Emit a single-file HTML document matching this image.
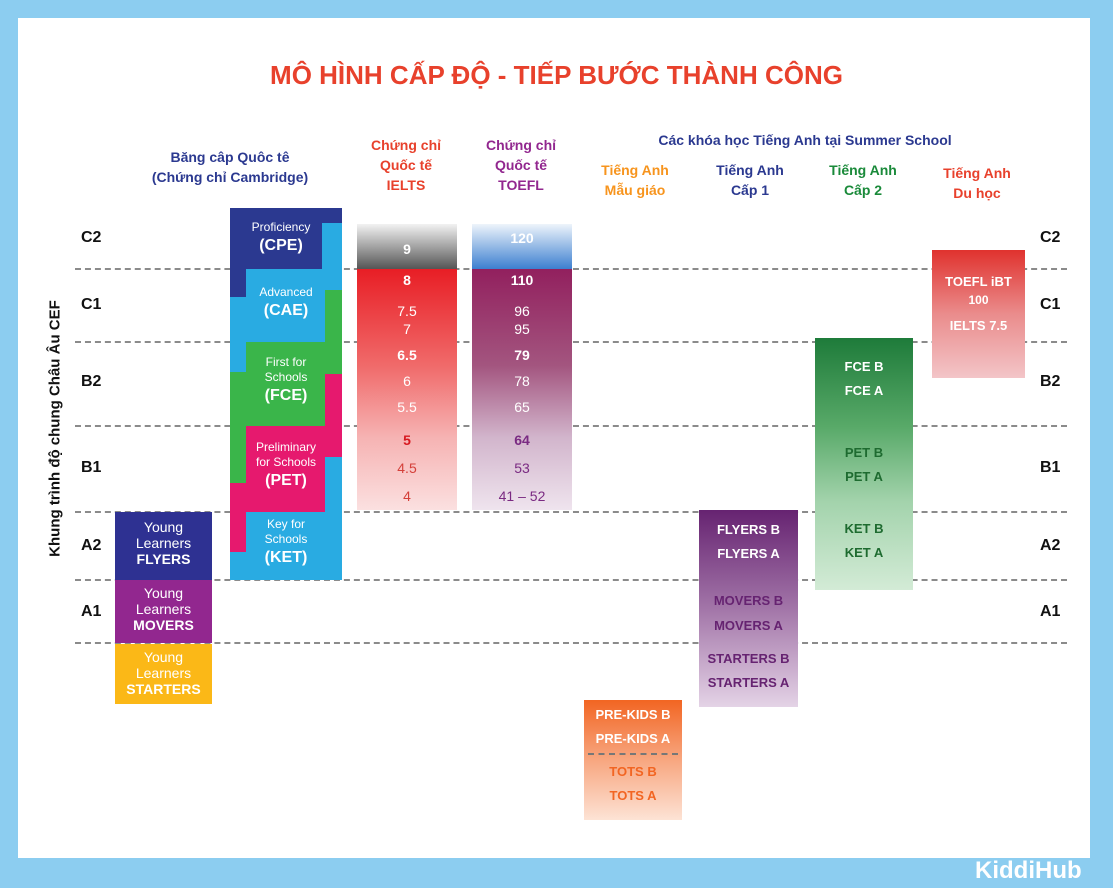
<!DOCTYPE html>
<html><head><meta charset="utf-8"><style>
*{margin:0;padding:0;box-sizing:border-box}
body{width:1113px;height:888px;background:#8ccdf0;position:relative;overflow:hidden;font-family:"Liberation Sans","DejaVu Sans",sans-serif}
.panel{position:absolute;left:18px;top:18px;width:1072px;height:840px;background:#fff}
.a{position:absolute}
.t{position:absolute;text-align:center;font-weight:bold}
.line{position:absolute;left:75px;width:992px;height:0;border-top:2px dashed #777;opacity:.85}
.lv{position:absolute;font-weight:bold;font-size:16px;color:#111}
.c{position:absolute;text-align:center;color:#fff}
</style></head><body>
<div class="panel"></div>
<div class="t" style="left:0;width:1113px;top:60px;font-size:26px;color:#e8412c">MÔ HÌNH CẤP ĐỘ - TIẾP BƯỚC THÀNH CÔNG</div>

<div class="t" style="left:130px;width:200px;top:147px;font-size:14px;line-height:20px;color:#2b3990">Băng câp Quôc tê<br>(Chứng chỉ Cambridge)</div>
<div class="t" style="left:350px;width:112px;top:135px;font-size:14px;line-height:20px;color:#e8412c">Chứng chỉ<br>Quốc tế<br>IELTS</div>
<div class="t" style="left:465px;width:112px;top:135px;font-size:14px;line-height:20px;color:#92278f">Chứng chỉ<br>Quốc tế<br>TOEFL</div>
<div class="t" style="left:600px;width:410px;top:132px;font-size:14px;color:#2b3990">Các khóa học Tiếng Anh tại Summer School</div>
<div class="t" style="left:580px;width:110px;top:160px;font-size:14px;line-height:20px;color:#f7941d">Tiếng Anh<br>Mẫu giáo</div>
<div class="t" style="left:695px;width:110px;top:160px;font-size:14px;line-height:20px;color:#2b3990">Tiếng Anh<br>Cấp 1</div>
<div class="t" style="left:808px;width:110px;top:160px;font-size:14px;line-height:20px;color:#1a8a3a">Tiếng Anh<br>Cấp 2</div>
<div class="t" style="left:922px;width:110px;top:163px;font-size:14px;line-height:20px;color:#e8412c">Tiếng Anh<br>Du học</div>

<div class="t" style="left:-95px;width:300px;top:420px;font-size:15px;color:#111;transform:rotate(-90deg)">Khung trình độ chung Châu Âu CEF</div>

<div class="line" style="top:268px"></div>
<div class="line" style="top:341px"></div>
<div class="line" style="top:425px"></div>
<div class="line" style="top:511px"></div>
<div class="line" style="top:579px"></div>
<div class="line" style="top:642px"></div>

<div class="lv" style="left:81px;top:229px">C2</div><div class="lv" style="left:1040px;top:229px">C2</div>
<div class="lv" style="left:81px;top:296px">C1</div><div class="lv" style="left:1040px;top:296px">C1</div>
<div class="lv" style="left:81px;top:373px">B2</div><div class="lv" style="left:1040px;top:373px">B2</div>
<div class="lv" style="left:81px;top:459px">B1</div><div class="lv" style="left:1040px;top:459px">B1</div>
<div class="lv" style="left:81px;top:537px">A2</div><div class="lv" style="left:1040px;top:537px">A2</div>
<div class="lv" style="left:81px;top:603px">A1</div><div class="lv" style="left:1040px;top:603px">A1</div>

<!-- Cambridge -->
<div class="a" style="left:230px;top:208px;width:112px;height:61px;background:#2b3990"></div>
<div class="a" style="left:322px;top:223px;width:20px;height:46px;background:#29abe2"></div>
<div class="a" style="left:230px;top:269px;width:112px;height:73px;background:#29abe2"></div>
<div class="a" style="left:230px;top:269px;width:16px;height:28px;background:#2b3990"></div>
<div class="a" style="left:325px;top:290px;width:17px;height:52px;background:#3ab54a"></div>
<div class="a" style="left:230px;top:342px;width:112px;height:84px;background:#3ab54a"></div>
<div class="a" style="left:230px;top:342px;width:16px;height:30px;background:#29abe2"></div>
<div class="a" style="left:325px;top:374px;width:17px;height:52px;background:#e6196e"></div>
<div class="a" style="left:230px;top:426px;width:112px;height:86px;background:#e6196e"></div>
<div class="a" style="left:230px;top:426px;width:16px;height:57px;background:#3ab54a"></div>
<div class="a" style="left:325px;top:457px;width:17px;height:55px;background:#29abe2"></div>
<div class="a" style="left:230px;top:512px;width:112px;height:68px;background:#29abe2"></div>
<div class="a" style="left:230px;top:512px;width:16px;height:40px;background:#e6196e"></div>
<div class="c" style="left:230px;width:102px;top:220px;font-size:12px;line-height:15px">Proficiency<br><b style="font-size:16px;line-height:22px">(CPE)</b></div>
<div class="c" style="left:235px;width:102px;top:285px;font-size:12px;line-height:15px">Advanced<br><b style="font-size:16px;line-height:22px">(CAE)</b></div>
<div class="c" style="left:235px;width:102px;top:355px;font-size:12px;line-height:15px">First for<br>Schools<br><b style="font-size:16px;line-height:22px">(FCE)</b></div>
<div class="c" style="left:235px;width:102px;top:440px;font-size:12px;line-height:15px">Preliminary<br>for Schools<br><b style="font-size:16px;line-height:22px">(PET)</b></div>
<div class="c" style="left:235px;width:102px;top:517px;font-size:12px;line-height:15px">Key for<br>Schools<br><b style="font-size:16px;line-height:22px">(KET)</b></div>

<!-- Young learners -->
<div class="a" style="left:115px;top:512px;width:97px;height:68px;background:#2e3192"></div>
<div class="a" style="left:115px;top:580px;width:97px;height:63px;background:#92278f"></div>
<div class="a" style="left:115px;top:644px;width:97px;height:60px;background:#fbb817"></div>
<div class="c" style="left:115px;width:97px;top:519px;font-size:14px;line-height:16px">Young<br>Learners<br><b>FLYERS</b></div>
<div class="c" style="left:115px;width:97px;top:585px;font-size:14px;line-height:16px">Young<br>Learners<br><b>MOVERS</b></div>
<div class="c" style="left:115px;width:97px;top:649px;font-size:14px;line-height:16px">Young<br>Learners<br><b>STARTERS</b></div>

<!-- IELTS -->
<div class="a" style="left:357px;top:224px;width:100px;height:45px;background:linear-gradient(#f2f2f2,#555)"></div>
<div class="a" style="left:357px;top:269px;width:100px;height:241px;background:linear-gradient(#e81e25,#f06a6a 40%,#f6b3b3 70%,#fbe0e0)"></div>
<div class="c" style="left:357px;width:100px;top:241px;font-size:14px;font-weight:bold">9</div>
<div class="c" style="left:357px;width:100px;top:272px;font-size:14px;font-weight:bold">8</div>
<div class="c" style="left:357px;width:100px;top:302px;font-size:14px;line-height:18px">7.5<br>7</div>
<div class="c" style="left:357px;width:100px;top:347px;font-size:14px;font-weight:bold">6.5</div>
<div class="c" style="left:357px;width:100px;top:373px;font-size:14px">6</div>
<div class="c" style="left:357px;width:100px;top:399px;font-size:14px">5.5</div>
<div class="c" style="left:357px;width:100px;top:432px;font-size:14px;font-weight:bold;color:#d71920">5</div>
<div class="c" style="left:357px;width:100px;top:460px;font-size:14px;color:#d4403a">4.5</div>
<div class="c" style="left:357px;width:100px;top:488px;font-size:14px;color:#d4403a">4</div>

<!-- TOEFL -->
<div class="a" style="left:472px;top:224px;width:100px;height:45px;background:linear-gradient(#eef4fb,#3c7fd0)"></div>
<div class="a" style="left:472px;top:269px;width:100px;height:241px;background:linear-gradient(#92205e,#a3557f 40%,#d2b5cc 70%,#efe4ee)"></div>
<div class="c" style="left:472px;width:100px;top:230px;font-size:14px;font-weight:bold">120</div>
<div class="c" style="left:472px;width:100px;top:272px;font-size:14px;font-weight:bold">110</div>
<div class="c" style="left:472px;width:100px;top:302px;font-size:14px;line-height:18px">96<br>95</div>
<div class="c" style="left:472px;width:100px;top:347px;font-size:14px;font-weight:bold">79</div>
<div class="c" style="left:472px;width:100px;top:373px;font-size:14px">78</div>
<div class="c" style="left:472px;width:100px;top:399px;font-size:14px">65</div>
<div class="c" style="left:472px;width:100px;top:432px;font-size:14px;font-weight:bold;color:#7a2a82">64</div>
<div class="c" style="left:472px;width:100px;top:460px;font-size:14px;color:#7a2a82">53</div>
<div class="c" style="left:472px;width:100px;top:488px;font-size:14px;color:#7a2a82">41 – 52</div>

<!-- Mẫu giáo -->
<div class="a" style="left:584px;top:700px;width:98px;height:120px;background:linear-gradient(#f26522,#f7a077 45%,#fde3d5)"></div>
<div class="a" style="left:588px;top:753px;width:90px;border-top:2px dashed #777"></div>
<div class="c" style="left:584px;width:98px;top:703px;font-size:13px;line-height:24px;font-weight:bold">PRE-KIDS B<br>PRE-KIDS A</div>
<div class="c" style="left:584px;width:98px;top:760px;font-size:13px;line-height:24px;font-weight:bold;color:#f26522">TOTS B<br>TOTS A</div>

<!-- Cấp 1 -->
<div class="a" style="left:699px;top:510px;width:99px;height:197px;background:linear-gradient(#662371,#a275a8 50%,#e4d3e6)"></div>
<div class="c" style="left:699px;width:99px;top:518px;font-size:13px;line-height:24px;font-weight:bold">FLYERS B<br>FLYERS A</div>
<div class="c" style="left:699px;width:99px;top:588px;font-size:13px;line-height:25px;font-weight:bold;color:#662371">MOVERS B<br>MOVERS A</div>
<div class="c" style="left:695px;width:107px;top:647px;font-size:13px;line-height:24px;font-weight:bold;color:#662371">STARTERS B<br>STARTERS A</div>

<!-- Cấp 2 -->
<div class="a" style="left:815px;top:338px;width:98px;height:252px;background:linear-gradient(#1e7b3a,#58a968 35%,#a3d3ac 65%,#d3ebd6)"></div>
<div class="c" style="left:815px;width:98px;top:355px;font-size:13px;line-height:24px;font-weight:bold">FCE B<br>FCE A</div>
<div class="c" style="left:815px;width:98px;top:441px;font-size:13px;line-height:24px;font-weight:bold;color:#1e6b30">PET B<br>PET A</div>
<div class="c" style="left:815px;width:98px;top:517px;font-size:13px;line-height:24px;font-weight:bold;color:#1e6b30">KET B<br>KET A</div>

<!-- Du học -->
<div class="a" style="left:932px;top:250px;width:93px;height:128px;background:linear-gradient(#e0322e,#ea8c8c 50%,#f3c5c8)"></div>
<div class="c" style="left:932px;width:93px;top:273px;font-size:13px;line-height:18px;font-weight:bold">TOEFL iBT<br><span style="font-size:12px">100</span></div>
<div class="c" style="left:932px;width:93px;top:318px;font-size:13px;font-weight:bold">IELTS 7.5</div>

<div class="a" style="left:975px;top:858px;font-size:24px;line-height:26px;font-weight:bold;color:#fff">KiddiHub</div>
</body></html>
